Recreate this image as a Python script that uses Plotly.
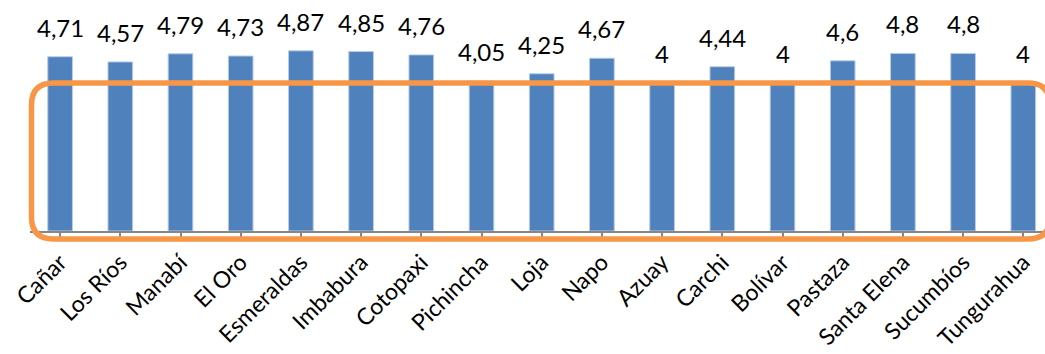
import plotly.graph_objects as go

categories = ["Cañar", "Los Ríos", "Manabí", "El Oro", "Esmeraldas", "Imbabura",
              "Cotopaxi", "Pichincha", "Loja", "Napo", "Azuay", "Carchi",
              "Bolívar", "Pastaza", "Santa Elena", "Sucumbíos", "Tungurahua"]
values = [4.71, 4.57, 4.79, 4.73, 4.87, 4.85, 4.76, 4.05, 4.25, 4.67, 4.0, 4.44,
          4.0, 4.6, 4.8, 4.8, 4.0]
labels = [f"{v:g}".replace(".", ",") for v in values]

W, H = 1045, 354
ML, MR, MT, MB = 30, 0, 9, 123
PW, PH = W - ML - MR, H - MT - MB
CAT_W = 60.2
x_hi = -0.5 + PW / CAT_W

FONT = "Lato, 'Open Sans', sans-serif"

fig = go.Figure()
fig.add_trace(go.Bar(
    x=list(range(len(categories))), y=values,
    width=0.41,
    marker=dict(color="#4F81BD", line=dict(color="#B9CDE5", width=1)),
    hoverinfo="skip",
))

for i, (v, t) in enumerate(zip(values, labels)):
    fig.add_annotation(x=i, y=v, text=t, showarrow=False, yanchor="bottom",
                       yshift=13, font=dict(family=FONT, size=24, color="#000000"))

# orange rounded rectangle overlay (pixel coords -> paper coords)
def px(xp):
    return (xp - ML) / PW

def py(yp):
    return (H - MB - yp) / PH

x0, x1, y0, y1, r = 31.5, 1050, 83, 239, 22
pts = [
    ("M", x0 + r, y0),
    ("L", x1 - r, y0),
    ("Q", x1, y0, x1, y0 + r),
    ("L", x1, y1 - r),
    ("Q", x1, y1, x1 - r, y1),
    ("L", x0 + r, y1),
    ("Q", x0, y1, x0, y1 - r),
    ("L", x0, y0 + r),
    ("Q", x0, y0, x0 + r, y0),
]
path = ""
for p in pts:
    cmd = p[0]
    coords = p[1:]
    s = []
    for k in range(0, len(coords), 2):
        s.append(f"{px(coords[k]):.5f},{py(coords[k+1]):.5f}")
    path += cmd + " ".join(s) + " "
path += "Z"
fig.add_shape(type="path", path=path, xref="paper", yref="paper",
              line=dict(color="#F79646", width=5.5), fillcolor="rgba(0,0,0,0)",
              layer="above")

fig.update_layout(
    width=W, height=H,
    margin=dict(l=ML, r=MR, t=MT, b=MB, pad=0, autoexpand=False),
    paper_bgcolor="white", plot_bgcolor="white",
    showlegend=False,
    bargap=0.59,
    font=dict(family=FONT, size=24, color="#000000"),
)
fig.update_xaxes(
    range=[-0.5, x_hi],
    automargin=False,
    tickmode="array", tickvals=list(range(len(categories))), ticktext=categories,
    tickangle=-45,
    ticks="outside", tickson="boundaries", ticklen=6, tickcolor="#868686", tickwidth=1.5,
    ticklabelstandoff=1,
    showline=True, linecolor="#868686", linewidth=1.5,
    showgrid=False, zeroline=False,
    tickfont=dict(family=FONT, size=23, color="#000000"),
)
fig.update_yaxes(range=[0, 6], visible=False, showgrid=False, zeroline=False,
                 automargin=False)

fig.write_html("out.html")
